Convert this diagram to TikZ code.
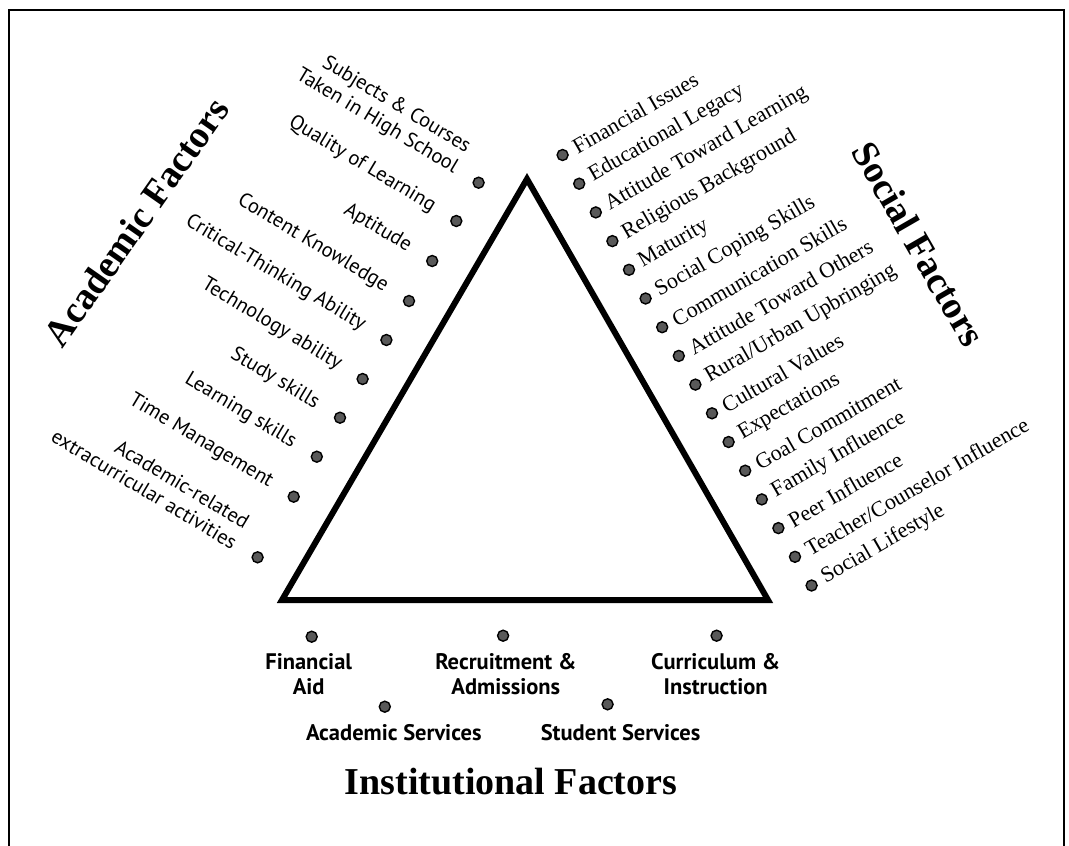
\documentclass[tikz,border=0pt]{standalone}
\usepackage{fontspec}
\setmainfont{Liberation Serif}
\newfontfamily\itemfont{PT Sans}
\usetikzlibrary{calc}
\tikzset{
  dot/.style={fill=black!65, draw=black, line width=1.4pt},
  acad/.style={rotate=-31, anchor=east, inner sep=0pt, align=right, font=\itemfont\fontsize{20.5}{24}\selectfont},
  soc/.style={rotate=30, anchor=west, inner sep=0pt, font=\fontsize{22}{24}\selectfont},
  inst/.style={align=center, inner sep=0pt, font=\itemfont\bfseries\fontsize{22.5}{25}\selectfont},
  title/.style={inner sep=0pt, font=\bfseries\fontsize{38}{44}\selectfont}
}
\begin{document}
\begin{tikzpicture}[x=1pt, y=-1pt, line join=miter]
\useasboundingbox (0,0) rectangle (1069,846);
% frame
\draw[line width=2pt] (9,850) |- (1064,10) -- (1064,850);
% triangle
\coordinate (T) at (527,179);
\coordinate (L) at (282,600);
\coordinate (R) at (768,600);
\draw[line width=6pt] (L) -- (R) -- (T) -- cycle;
% academic side
\coordinate (subj) at (478.6,182.7);
\coordinate (qual) at (456.3,221);
\coordinate (apt) at (432.2,261);
\coordinate (cont) at (409,301);
\coordinate (crit) at (386.4,340);
\coordinate (tech) at (362.6,379);
\coordinate (stud) at (340,417.7);
\coordinate (lrn) at (316.8,456.7);
\coordinate (time) at (293.7,496.7);
\coordinate (extra) at (257.6,557.3);
\foreach \p in {subj,qual,apt,cont,crit,tech,stud,lrn,time,extra}
  \filldraw[dot] (\p) circle (5.5pt);
\node[acad] (subjL) at ($(subj)+(-16.1,-23.7)$) {Subjects \& Courses\\Taken in High School};
\node[acad] (qualL) at ($(qual)+(-22.3,-13.4)$) {Quality of Learning};
\node[acad] (aptL) at ($(apt)+(-22.3,-13.4)$) {Aptitude};
\node[acad] (contL) at ($(cont)+(-22.3,-13.4)$) {Content Knowledge};
\node[acad] (critL) at ($(crit)+(-22.3,-13.4)$) {Critical-Thinking Ability};
\node[acad] (techL) at ($(tech)+(-22.3,-13.4)$) {Technology ability};
\node[acad] (studL) at ($(stud)+(-22.3,-13.4)$) {Study skills};
\node[acad] (lrnL) at ($(lrn)+(-22.3,-13.4)$) {Learning skills};
\node[acad] (timeL) at ($(time)+(-22.3,-13.4)$) {Time Management};
\node[acad] (extraL) at ($(extra)+(-16.1,-23.7)$) {Academic-related\\extracurricular activities};
% social side
\coordinate (fin) at (562.6,155);
\coordinate (edu) at (579.2,183.7);
\coordinate (attl) at (595.8,212.4);
\coordinate (rel) at (612.4,241.1);
\coordinate (mat) at (629,269.8);
\coordinate (cope) at (645.6,298.5);
\coordinate (comm) at (662.2,327.2);
\coordinate (atto) at (678.8,355.9);
\coordinate (rur) at (695.4,384.6);
\coordinate (cult) at (712,413.3);
\coordinate (expt) at (728.6,442);
\coordinate (goal) at (745.2,470.7);
\coordinate (fam) at (761.8,499.4);
\coordinate (peer) at (778.4,528.1);
\coordinate (teach) at (795,556.8);
\coordinate (life) at (811.6,585.5);
\foreach \p in {fin,edu,attl,rel,mat,cope,comm,atto,rur,cult,expt,goal,fam,peer,teach,life}
  \filldraw[dot] (\p) circle (5.5pt);
\node[soc] (finL) at ($(fin)+(11.3,-6.5)$) {Financial Issues};
\node[soc] (eduL) at ($(edu)+(11.3,-6.5)$) {Educational Legacy};
\node[soc] (attlL) at ($(attl)+(11.3,-6.5)$) {Attitude Toward Learning};
\node[soc] (relL) at ($(rel)+(11.3,-6.5)$) {Religious Background};
\node[soc] (matL) at ($(mat)+(11.3,-6.5)$) {Maturity};
\node[soc] (copeL) at ($(cope)+(11.3,-6.5)$) {Social Coping Skills};
\node[soc] (commL) at ($(comm)+(11.3,-6.5)$) {Communication Skills};
\node[soc] (attoL) at ($(atto)+(11.3,-6.5)$) {Attitude Toward Others};
\node[soc] (rurL) at ($(rur)+(11.3,-6.5)$) {Rural/Urban Upbringing};
\node[soc] (cultL) at ($(cult)+(11.3,-6.5)$) {Cultural Values};
\node[soc] (exptL) at ($(expt)+(11.3,-6.5)$) {Expectations};
\node[soc] (goalL) at ($(goal)+(11.3,-6.5)$) {Goal Commitment};
\node[soc] (famL) at ($(fam)+(11.3,-6.5)$) {Family Influence};
\node[soc] (peerL) at ($(peer)+(11.3,-6.5)$) {Peer Influence};
\node[soc] (teachL) at ($(teach)+(11.3,-6.5)$) {Teacher/Counselor Influence};
\node[soc] (lifeL) at ($(life)+(11.3,-6.5)$) {Social Lifestyle};
% institutional side
\coordinate (aid) at (311.7,636.7);
\coordinate (recr) at (503.1,635.7);
\coordinate (curr) at (716.6,635.7);
\coordinate (acs) at (384.8,706.7);
\coordinate (sts) at (607.6,704.3);
\foreach \p in {aid,recr,curr,acs,sts}
  \filldraw[dot] (\p) circle (5.5pt);
\node[inst] (aidL) at (308.7,674.5) {Financial\\Aid};
\node[inst] (recrL) at (505.8,674.5) {Recruitment \&\\Admissions};
\node[inst] (currL) at (715.7,674.5) {Curriculum \&\\Instruction};
\node[inst] (acsL) at (393.8,733) {Academic Services};
\node[inst] (stsL) at (620.6,733) {Student Services};
% titles
\node[title, rotate=55] (acf) at (136,222) {Academic Factors};
\node[title, rotate=-60] (scf) at (919,244) {Social Factors};
\node[title] (inf) at (511,782) {Institutional Factors};
\end{tikzpicture}
\end{document}
